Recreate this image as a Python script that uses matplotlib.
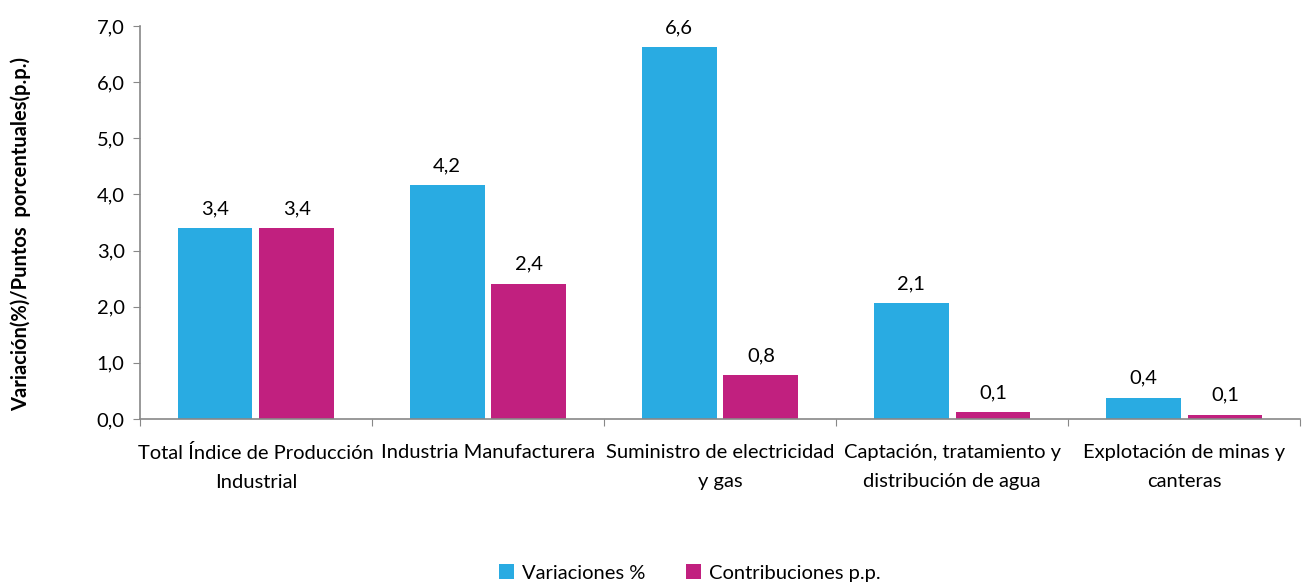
import matplotlib
matplotlib.use("Agg")
import matplotlib.pyplot as plt
import numpy as np

plt.rcParams['font.family'] = ['Lato', 'DejaVu Sans']

# Data
categories = ["Total Índice de Producción\nIndustrial",
              "Industria Manufacturera",
              "Suministro de electricidad\ny gas",
              "Captación, tratamiento y\ndistribución de agua",
              "Explotación de minas y\ncanteras"]
variaciones = [3.40, 4.16, 6.62, 2.06, 0.38]
contribuciones = [3.40, 2.41, 0.78, 0.12, 0.08]
series_names = ["Variaciones %", "Contribuciones p.p."]
colors = ["#29ABE2", "#C1207F"]

fig = plt.figure(figsize=(13.02, 5.88), dpi=100)
ax = fig.add_axes([0.1075, 0.2874, 0.891, 0.6684])

x = np.arange(len(categories))
width = 0.323
gap = 0.03
b1 = ax.bar(x - (width + gap) / 2, variaciones, width, color=colors[0], label=series_names[0])
b2 = ax.bar(x + (width + gap) / 2, contribuciones, width, color=colors[1], label=series_names[1])

# value labels
for bars in (b1, b2):
    for rect in bars:
        h = rect.get_height()
        ax.text(rect.get_x() + rect.get_width() / 2, h + 0.2, f"{h:.1f}".replace(".", ","),
                ha="center", va="bottom", fontsize=14.5)

ax.set_xlim(-0.5, len(categories) - 0.5)
ax.set_ylim(0, 7)
ax.set_yticks(np.arange(0, 7.01, 1.0))
ax.set_yticklabels([f"{v:.1f}".replace(".", ",") for v in np.arange(0, 7.01, 1.0)], fontsize=14.5)

# category labels between boundary ticks
ax.set_xticks(np.arange(-0.5, len(categories), 1.0))
ax.set_xticklabels([])
ax.set_xticks(x, minor=True)
ax.set_xticklabels(categories, minor=True, fontsize=14.5, linespacing=1.85)
ax.tick_params(axis="x", which="minor", length=0, pad=18)
ax.tick_params(axis="x", which="major", length=5, color="#888888")
ax.tick_params(axis="y", length=5, color="#888888", pad=6)

for side in ("top", "right"):
    ax.spines[side].set_visible(False)
for side in ("left", "bottom"):
    ax.spines[side].set_color("#888888")
    ax.spines[side].set_linewidth(1.2)

ax.set_ylabel("Variación(%)/Puntos  porcentuales(p.p.)", fontsize=14.5, fontweight="bold")
ax.yaxis.set_label_coords(-0.094, 0.47)

fig.legend(handles=[b1, b2], loc="lower center", bbox_to_anchor=(0.53, -0.02), ncol=2,
           frameon=False, fontsize=14.5, handlelength=0.75, handleheight=0.75,
           handletextpad=0.4, columnspacing=2.0)

fig.savefig("out.png", dpi=100, facecolor="white")
